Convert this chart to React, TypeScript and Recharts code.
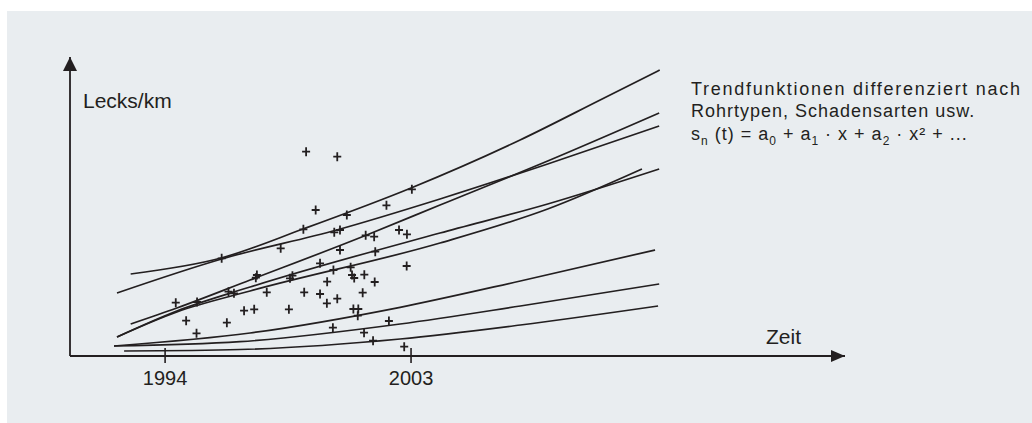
import {
  ComposedChart,
  Line,
  ReferenceDot,
  ReferenceLine,
  Scatter,
  XAxis,
  YAxis,
} from "recharts";

// trend curves (x = year, y = Lecks/km in chart units)
const trendA = [
  { x: 1992.74, y: 82 },
  { x: 1996.05, y: 98 },
  { x: 1999.05, y: 127 },
  { x: 2003, y: 168 },
  { x: 2006.99, y: 216 },
  { x: 2009.92, y: 256 },
  { x: 2012.1, y: 286 },
];
const trendB = [
  { x: 1992.24, y: 63 },
  { x: 1996.07, y: 97 },
  { x: 2000.28, y: 126 },
  { x: 2004.06, y: 157 },
  { x: 2008, y: 192 },
  { x: 2012.08, y: 230 },
];
const trendC = [
  { x: 1992.74, y: 32 },
  { x: 1994.43, y: 48 },
  { x: 1997.11, y: 76 },
  { x: 2001.38, y: 121 },
  { x: 2004.06, y: 151 },
  { x: 2008, y: 195 },
  { x: 2012.08, y: 243 },
];
const trendD = [
  { x: 1992.24, y: 19 },
  { x: 1994.43, y: 45 },
  { x: 1997.11, y: 69 },
  { x: 2004.06, y: 123 },
  { x: 2008, y: 152 },
  { x: 2012.08, y: 187 },
];
const trendD2 = [
  { x: 1992.24, y: 19 },
  { x: 1994.43, y: 44 },
  { x: 1997.11, y: 65 },
  { x: 2004.06, y: 113 },
  { x: 2008, y: 147 },
  { x: 2011.45, y: 187 },
];
const trendE = [
  { x: 1992.13, y: 10 },
  { x: 1997.11, y: 23 },
  { x: 2002.6, y: 48.7 },
  { x: 2007, y: 75 },
  { x: 2011.93, y: 106 },
];
const trendF = [
  { x: 1992.13, y: 10 },
  { x: 1996.74, y: 14.3 },
  { x: 2002.6, y: 32 },
  { x: 2007, y: 50 },
  { x: 2012.08, y: 72 },
];
const trendG = [
  { x: 1992.5, y: 5 },
  { x: 1996.74, y: 6.5 },
  { x: 2002.6, y: 17 },
  { x: 2007, y: 31 },
  { x: 2012.04, y: 50 },
];
const trends = [trendA, trendB, trendC, trendD, trendD2, trendE, trendF, trendG];

// observed leak rates
const leaks = [
  { x: 1999.16, y: 204.3 }, { x: 2000.3, y: 199.3 }, { x: 2003.03, y: 166.7 },
  { x: 2002.1, y: 150.7 }, { x: 1999.51, y: 146 }, { x: 2000.65, y: 141 },
  { x: 1999.06, y: 126.7 }, { x: 2000.19, y: 123.7 }, { x: 2000.4, y: 126 },
  { x: 2001.34, y: 120.7 }, { x: 2001.65, y: 119.3 }, { x: 2002.56, y: 126 },
  { x: 2002.85, y: 121.7 }, { x: 1996.07, y: 97.7 }, { x: 1998.23, y: 107.7 },
  { x: 2000.4, y: 106 }, { x: 2001.69, y: 104.3 }, { x: 1999.67, y: 92.7 },
  { x: 2002.84, y: 90 }, { x: 1997.36, y: 81 }, { x: 1997.32, y: 78.3 },
  { x: 1998.66, y: 80.3 }, { x: 1998.57, y: 77.7 }, { x: 2000.16, y: 86 },
  { x: 2000.79, y: 88.7 }, { x: 2000.84, y: 81 }, { x: 2000.92, y: 78 },
  { x: 2001.29, y: 81.3 }, { x: 1999.93, y: 74.3 }, { x: 2001.67, y: 74 },
  { x: 1996.32, y: 64.3 }, { x: 1996.52, y: 62.7 }, { x: 1997.72, y: 63.7 },
  { x: 1999.09, y: 63.7 }, { x: 1999.67, y: 62 }, { x: 2001.23, y: 63.3 },
  { x: 1994.39, y: 53.3 }, { x: 1995.17, y: 54 }, { x: 1999.92, y: 52.7 },
  { x: 2000.3, y: 57.3 }, { x: 1996.89, y: 45.3 }, { x: 1997.26, y: 46.7 },
  { x: 1998.53, y: 46.7 }, { x: 2000.89, y: 47 }, { x: 2001.07, y: 47 },
  { x: 2001.05, y: 40.3 }, { x: 1994.77, y: 35.3 }, { x: 1996.26, y: 33.3 },
  { x: 2002.19, y: 35 }, { x: 1995.15, y: 22.7 }, { x: 2000.14, y: 28.3 },
  { x: 2001.28, y: 23.3 }, { x: 2001.61, y: 15.3 }, { x: 2002.75, y: 9.3 },
];

const yearTicks = [1994, 2003];
const xMin = 1990.52;
const xMax = 2018.88;
const yMax = 299;

const INK = "#231f20";
const FONT = "'Liberation Sans', Arial, sans-serif";

const YearTick = (props: any) => {
  const { x, y, payload } = props;
  return (
    <g>
      <line x1={x} x2={x} y1={y - 8} y2={y + 7} stroke={INK} strokeWidth={1.6} />
      <text x={x} y={y + 29} textAnchor="middle" fontSize={20} fill={INK} fontFamily={FONT}>
        {payload.value}
      </text>
    </g>
  );
};

const Plus = (props: any) => {
  const { cx, cy } = props;
  return (
    <path
      d={`M${cx - 4},${cy}h8M${cx},${cy - 4.5}v9`}
      stroke={INK}
      strokeWidth={1.8}
      fill="none"
    />
  );
};

const ArrowRight = (props: any) => {
  const { cx, cy } = props;
  return <path d={`M${cx},${cy} L${cx - 14},${cy - 6} L${cx - 14},${cy + 6} Z`} fill={INK} />;
};

const ArrowUp = (props: any) => {
  const { cx, cy } = props;
  return <path d={`M${cx},${cy} L${cx - 7},${cy + 14} L${cx + 7},${cy + 14} Z`} fill={INK} />;
};

const sub = { fontSize: 12, fill: INK };

export default function App() {
  return (
    <div style={{ position: "absolute", left: 0, top: 0, width: 1032, height: 423, background: "#fff" }}>
      <div style={{ position: "absolute", left: 7, top: 11, width: 1025, height: 412, background: "#e9edf0" }} />
      <div style={{ position: "absolute", left: 0, top: 0 }}>
        <ComposedChart
          width={1032}
          height={423}
          margin={{ top: 57, right: 187, left: 70, bottom: 27 }}
        >
          <XAxis
            type="number"
            dataKey="x"
            domain={[xMin, xMax]}
            ticks={yearTicks}
            allowDataOverflow
            height={40}
            tickSize={0}
            tickMargin={0}
            tickLine={false}
            tick={<YearTick />}
            axisLine={{ stroke: INK, strokeWidth: 1.8 }}
          />
          <YAxis type="number" dataKey="y" domain={[0, yMax]} allowDataOverflow hide />
          <ReferenceLine x={xMin} stroke={INK} strokeWidth={1.8} ifOverflow="visible" />
          {trends.map((d, i) => (
            <Line
              key={i}
              data={d}
              dataKey="y"
              type="monotone"
              stroke={INK}
              strokeWidth={1.7}
              dot={false}
              activeDot={false}
              isAnimationActive={false}
            />
          ))}
          <Scatter data={leaks} dataKey="y" shape={<Plus />} isAnimationActive={false} />
          <ReferenceDot x={xMax} y={0} ifOverflow="visible" shape={<ArrowRight />} />
          <ReferenceDot x={xMin} y={yMax} ifOverflow="visible" shape={<ArrowUp />} />
        </ComposedChart>
      </div>
      <svg
        width={1032}
        height={423}
        style={{ position: "absolute", left: 0, top: 0, pointerEvents: "none" }}
        fontFamily={FONT}
      >
        <text x={83} y={108} fontSize={21} fill={INK}>Lecks/km</text>
        <text x={766} y={344} fontSize={21} fill={INK}>Zeit</text>
        <g fontSize={18} letterSpacing={1} fill={INK} style={{ whiteSpace: "pre" }}>
          <text x={691} y={95} textLength={330} lengthAdjust="spacing" fill={INK}>
            Trendfunktionen differenziert nach
          </text>
          <text x={691} y={117} fill={INK}>Rohrtypen, Schadensarten usw.</text>
          <text x={691} y={140} fill={INK}>
            <tspan fill={INK}>s</tspan>
            <tspan {...sub} dy={5}>n</tspan>
            <tspan fill={INK} dy={-5}>{" (t) = a"}</tspan>
            <tspan {...sub} dy={5}>0</tspan>
            <tspan fill={INK} dy={-5}>{" + a"}</tspan>
            <tspan {...sub} dy={5}>1</tspan>
            <tspan fill={INK} dy={-5}>{" · x   + a"}</tspan>
            <tspan {...sub} dy={5}>2</tspan>
            <tspan fill={INK} dy={-5}>{" · x² + ..."}</tspan>
          </text>
        </g>
      </svg>
    </div>
  );
}
